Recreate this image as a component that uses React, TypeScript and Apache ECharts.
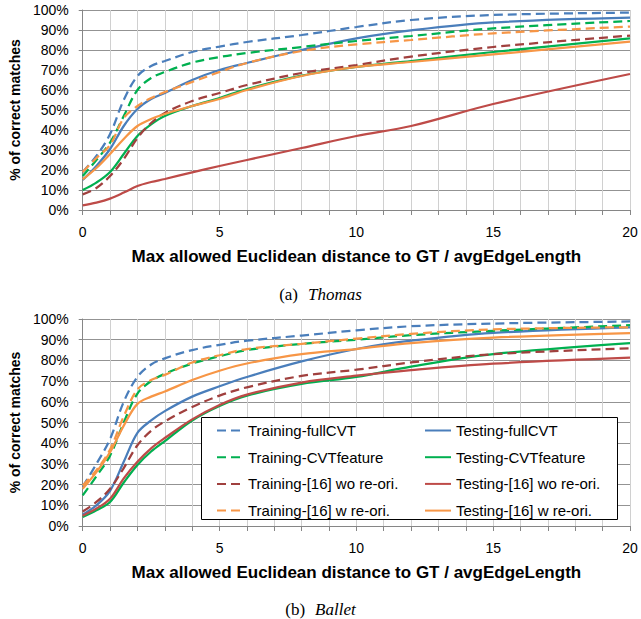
import React, { useEffect, useRef } from "react";
import * as echarts from "echarts";

const X = [0, 0.5, 1, 1.5, 2, 2.5, 3, 4, 5, 6, 8, 10, 12, 15, 20];
const X_TICK_LABELS = [0, 5, 10, 15, 20];

const NAMES = [
  "Training-fullCVT",
  "Testing-fullCVT",
  "Training-CVTfeature",
  "Testing-CVTfeature",
  "Training-[16] wo re-ori.",
  "Testing-[16] wo re-ori.",
  "Training-[16] w re-ori.",
  "Testing-[16] w re-ori.",
];
const COLORS = ["#4A7EBB", "#4A7EBB", "#00B050", "#00B050", "#A0403E", "#BE4B48", "#F79646", "#F79646"];
const DASHED = [true, false, true, false, true, false, true, false];

// (a) Thomas
const THOMAS_TRAIN_FULL = [19, 27, 38, 55, 67, 72, 74.5, 79, 81.7, 84, 87.5, 91.5, 95, 97.5, 98.7];
const THOMAS_TEST_FULL = [15, 22, 30.5, 42, 50.5, 55.5, 58.5, 65, 70, 73.5, 80, 85.8, 89.8, 93.8, 96.2];
const THOMAS_TRAIN_CVT = [17, 25, 33.7, 47, 60, 66, 69, 73.7, 76.5, 78.5, 81.5, 84.5, 87, 90.8, 94.5];
const THOMAS_TEST_CVT = [10, 13.7, 19, 28, 37, 42.8, 47, 52, 56, 60.5, 67.2, 71.5, 74.5, 79, 85.8];
const THOMAS_TRAIN_WO = [7.8, 11, 17, 25.5, 36, 43.5, 48.5, 54.5, 58.5, 62.5, 68.5, 72.5, 76.7, 81.5, 87.2];
const THOMAS_TEST_WO = [2.3, 3.7, 5.7, 8.7, 12, 14, 15.5, 18.8, 22, 25, 31, 37, 42, 53, 68];
const THOMAS_TRAIN_W = [19, 26, 32.5, 46, 52, 56, 59, 64, 69, 73.5, 79.5, 82.8, 85, 88.3, 91.7];
const THOMAS_TEST_W = [15.3, 21, 28, 35.5, 42, 45.5, 48, 52, 55.5, 60, 67, 71.5, 74, 77.8, 84.2];

// (b) Ballet
const BALLET_TRAIN_FULL = [19, 30, 42, 60, 72, 78, 81, 85, 87.5, 89.5, 92, 94.5, 96.5, 97.8, 98.8];
const BALLET_TEST_FULL = [5.5, 10, 17, 31, 45, 51, 55.5, 62.5, 67.5, 72, 79.5, 85.5, 89.5, 93.3, 96];
const BALLET_TRAIN_CVT = [14.8, 24, 34, 50, 64, 70, 73.5, 78.5, 82, 85, 88, 90, 92.2, 94.3, 97];
const BALLET_TEST_CVT = [4.3, 7.6, 11.6, 21, 29.5, 36, 41, 51, 58, 63, 68.6, 72, 77, 83, 88.4];
const BALLET_TRAIN_WO = [7, 11.6, 18, 28, 39, 46, 50.5, 57.5, 63, 67, 72.5, 75.5, 79, 83, 85.8];
const BALLET_TEST_WO = [5, 8.4, 13.2, 23, 31, 37.5, 42.5, 51.5, 58.5, 63.5, 69.3, 72.6, 75.3, 78.4, 81.3];
const BALLET_TRAIN_W = [19.6, 27, 37, 53, 66, 70.5, 73, 79, 82.5, 85.5, 88, 90.5, 92.8, 95, 96];
const BALLET_TEST_W = [18, 26, 35.7, 48.5, 59, 62.5, 65, 70.5, 75, 78.5, 83, 85.5, 88.4, 91, 93.2];

const THOMAS = [
  THOMAS_TRAIN_FULL, THOMAS_TEST_FULL, THOMAS_TRAIN_CVT, THOMAS_TEST_CVT,
  THOMAS_TRAIN_WO, THOMAS_TEST_WO, THOMAS_TRAIN_W, THOMAS_TEST_W,
];
const BALLET = [
  BALLET_TRAIN_FULL, BALLET_TEST_FULL, BALLET_TRAIN_CVT, BALLET_TEST_CVT,
  BALLET_TRAIN_WO, BALLET_TEST_WO, BALLET_TRAIN_W, BALLET_TEST_W,
];

const X_TITLE = "Max allowed Euclidean distance to GT / avgEdgeLength";
const Y_TITLE = "% of correct matches";

const SANS = "Liberation Sans";
const SERIF = "Liberation Serif";

export default function App() {
  const ref = useRef<HTMLDivElement>(null);

  useEffect(() => {
    if (!ref.current) return;
    const chart = echarts.init(ref.current, undefined, { renderer: "svg" });

    const xAxis = (gridIndex: number) => ({
      type: "value",
      gridIndex,
      min: 0,
      max: 20,
      interval: 1,
      axisLine: { show: true, lineStyle: { color: "#868686", width: 1 } },
      axisTick: { show: true, length: 5, lineStyle: { color: "#868686" } },
      axisLabel: {
        margin: 15,
        fontSize: 14,
        color: "#000",
        fontFamily: SANS,
        formatter: (v: number) => (X_TICK_LABELS.indexOf(v) >= 0 ? String(v) : ""),
      },
      splitLine: { show: true, lineStyle: { color: "#d0d0d0", width: 1 } },
      name: X_TITLE,
      nameLocation: "middle",
      nameGap: 38,
      nameTextStyle: { fontSize: 17, fontWeight: "bold", color: "#000", fontFamily: SANS },
    });

    const yAxis = (gridIndex: number) => ({
      type: "value",
      gridIndex,
      min: 0,
      max: 100,
      interval: 10,
      axisLine: { show: true, lineStyle: { color: "#868686", width: 1 } },
      axisTick: { show: true, length: 4, lineStyle: { color: "#868686" } },
      axisLabel: {
        margin: 14,
        fontSize: 14,
        color: "#000",
        fontFamily: SANS,
        formatter: "{value}%",
      },
      splitLine: { show: true, lineStyle: { color: "#939393", width: 1 } },
      name: Y_TITLE,
      nameLocation: "middle",
      nameGap: 57,
      nameTextStyle: { fontSize: 14, fontWeight: "bold", color: "#000", fontFamily: SANS },
    });

    const makeSeries = (data: number[][], gridIndex: number) =>
      NAMES.map((name, i) => ({
        type: "line",
        name,
        xAxisIndex: gridIndex,
        yAxisIndex: gridIndex,
        data: X.map((x, k) => [x, data[i][k]]),
        smooth: 0.35,
        symbol: "none",
        lineStyle: { color: COLORS[i], width: 2.25, type: DASHED[i] ? [9, 5] : "solid" },
        itemStyle: { color: COLORS[i] },
      }));

    const legendCommon = {
      orient: "vertical",
      itemWidth: 26,
      itemHeight: 14,
      itemGap: 11.7,
      itemStyle: { opacity: 0 },
      textStyle: { fontSize: 15, color: "#000", fontFamily: SANS },
      selectedMode: false,
    };

    const captionRich = {
      a: { fontFamily: SERIF, fontSize: 17, color: "#000", fontWeight: "normal" },
      b: { fontFamily: SERIF, fontSize: 17, color: "#000", fontStyle: "italic", fontWeight: "normal" },
    };

    chart.setOption({
      animation: false,
      backgroundColor: "#fff",
      grid: [
        { left: 80, top: 10, width: 550, height: 200 },
        { left: 80, top: 319, width: 550, height: 207 },
      ],
      xAxis: [xAxis(0), xAxis(1)],
      yAxis: [yAxis(0), yAxis(1)],
      title: [
        {
          text: "{a|(a)}  {b|Thomas}",
          left: "center",
          top: 280,
          textStyle: { fontWeight: "normal", rich: captionRich },
        },
        {
          text: "{a|(b)}  {b|Ballet}",
          left: "center",
          top: 595,
          textStyle: { fontWeight: "normal", rich: captionRich },
        },
      ],
      legend: [
        { ...legendCommon, left: 211, top: 418, data: [NAMES[0], NAMES[2], NAMES[4], NAMES[6]] },
        { ...legendCommon, left: 419, top: 418, data: [NAMES[1], NAMES[3], NAMES[5], NAMES[7]] },
      ],
      graphic: [
        {
          type: "rect",
          z: 3.5,
          shape: { x: 201.5, y: 417.5, width: 416, height: 102 },
          style: { fill: "#fff", stroke: "#000", lineWidth: 1 },
        },
      ],
      series: [...makeSeries(THOMAS, 0), ...makeSeries(BALLET, 1)],
    });

    return () => chart.dispose();
  }, []);

  return (
    <div
      ref={ref}
      style={{ position: "absolute", left: 0, top: 0, width: 641, height: 619 }}
    />
  );
}
